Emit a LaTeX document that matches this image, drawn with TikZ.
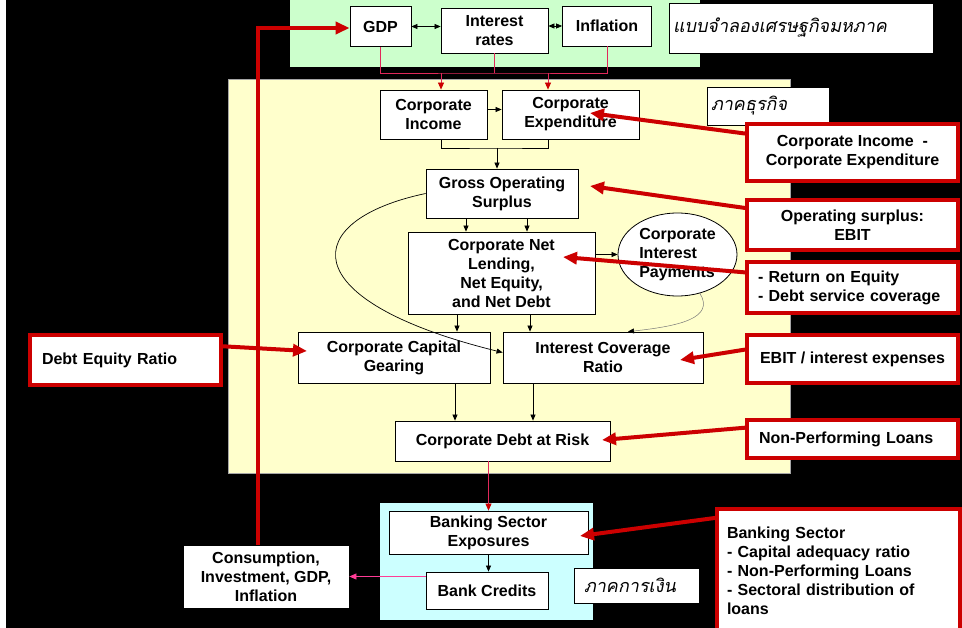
\documentclass[tikz,border=0pt]{standalone}
\usepackage{fontspec}
\setmainfont{Liberation Sans}
\newfontfamily\thaifont[Script=Thai,FakeSlant=0.2]{Loma}
\usetikzlibrary{arrows.meta,shapes.geometric,calc}

\definecolor{macrogreen}{RGB}{204,255,204}
\definecolor{bizyellow}{RGB}{255,255,204}
\definecolor{fincyan}{RGB}{204,255,255}
\definecolor{calloutred}{RGB}{204,0,0}
\definecolor{linkred}{RGB}{225,40,90}
\definecolor{linkpink}{RGB}{255,60,150}
\definecolor{softgray}{RGB}{120,120,120}

\tikzset{
  box/.style={draw=black, line width=0.8pt, fill=white, align=center,
    font=\fontsize{16}{19}\selectfont\bfseries, inner sep=2pt},
  sz/.style 2 args={minimum width=#1pt, minimum height=#2pt},
  thaibox/.style={draw=black, line width=0.8pt, fill=white, align=left,
    font=\fontsize{18}{20}\selectfont\thaifont, inner xsep=4pt},
  callout/.style={draw=calloutred, line width=4pt, fill=white, align=center,
    font=\fontsize{16}{19}\selectfont\bfseries},
  arr/.style={line width=0.7pt, -{Triangle[length=6pt,width=5pt]}},
  dblarr/.style={line width=0.7pt,
    {Triangle[length=6pt,width=5pt]}-{Triangle[length=6pt,width=5pt]}},
  linkline/.style={draw=linkred, line width=0.7pt},
  linkarr/.style={draw=linkred, line width=0.7pt,
    -{Triangle[length=7pt,width=6pt,color=calloutred]}},
  pinkarr/.style={draw=linkpink, line width=0.7pt, -{Triangle[length=7pt,width=6pt]}},
  grayarr/.style={draw=softgray, line width=0.5pt, -{Triangle[length=6pt,width=5pt,color=black]}},
  redarr/.style={draw=calloutred, line width=4pt, -{Triangle[length=14pt,width=12pt]}},
}

\begin{document}
\begin{tikzpicture}[x=1pt,y=-1pt]
    \useasboundingbox (0,0) rectangle (962,628);
    \clip (0,0) rectangle (962,628);
    % background and sector regions
    \fill[white] (0,0) rectangle (962,628);
    \fill[black] (6,0) rectangle (962,628);
    \fill[macrogreen] (290,-2) rectangle (700,67);
    \filldraw[fill=bizyellow, draw=gray!70] (228,79) rectangle (790,473);
    \fill[fincyan] (380,503) rectangle (593,620);

    % macro block
    \node[box, sz={61}{40}] (gdp) at (380.5,26.5) {GDP};
    \node[box, sz={107}{45}] (rates) at (494.5,30.5) {Interest\\rates};
    \node[box, sz={89}{40}] (infl) at (607,26) {Inflation};
    \node[thaibox, sz={264}{50}, text width=256pt] (macro) at (801,28) {แบบจำลองเศรษฐกิจมหภาค};

    % corporate block
    \node[box, sz={107}{49}] (ci) at (433.5,114.5) {Corporate\\Income};
    \node[box, sz={137}{49}] (ce) at (570.5,114.5) {Corporate\\Expenditure};
    \node[thaibox, sz={122}{38}, text width=114pt] (biz) at (768,106) {ภาคธุรกิจ};
    \node[box, sz={152}{49}] (gos) at (502,193.5) {Gross Operating\\Surplus};
    \node[box, sz={187}{82}] (cnl) at (501.5,273) {Corporate Net\\Lending,\\Net Equity,\\and Net Debt};
    \node[box, ellipse, sz={119}{83}, align=left, inner sep=0pt] (cip) at (677.5,254.5) {Corporate\\Interest\\Payments};
    \node[box, sz={192}{51}] (ccg) at (394,357.5) {Corporate Capital\\Gearing};
    \node[box, sz={200}{51}] (icr) at (603,357.5) {Interest Coverage\\Ratio};
    \node[box, sz={215}{40}] (cdr) at (502.5,441) {Corporate Debt at Risk};

    % financial block
    \node[box, sz={199}{43}] (bse) at (488.5,532.5) {Banking Sector\\Exposures};
    \node[box, sz={122}{37}] (bcr) at (487,590.5) {Bank Credits};
    \node[thaibox, sz={125}{35}, inner xsep=10pt, text width=105pt] (fin) at (636.5,585.5) {ภาคการเงิน};
    \node[box, sz={166}{63}] (cons) at (266,576.5) {Consumption,\\Investment, GDP,\\Inflation};

    % macro links
    \coordinate (mbus) at (494.5,73);
    \draw[dblarr] (gdp.east) -- (gdp.east -| rates.west);
    \draw[dblarr] (rates.east |- infl.west) -- (infl.west);
    \draw[linkline] (gdp.south) |- (mbus) -| (infl.south);
    \draw[linkline] (rates.south) -- (mbus);
    \draw[linkarr] ([xshift=7.5pt]ci.north |- mbus) -- ([xshift=7.5pt]ci.north);
    \draw[linkarr] ([xshift=-22.5pt]ce.north |- mbus) -- ([xshift=-22.5pt]ce.north);

    % corporate links
    \coordinate (ibus) at (497,148);
    \draw[arr] ([yshift=5pt]ci.east) -- ([yshift=5pt]ce.west);
    \draw[line width=0.7pt] ([xshift=7.5pt]ci.south) |- (ibus) -| ([xshift=-22.5pt]ce.south);
    \draw[arr] (ibus) -- (ibus |- gos.north);
    \draw[arr] ([xshift=-36pt]gos.south) -- ([xshift=-36pt]gos.south |- cnl.north);
    \draw[arr] ([xshift=25pt]gos.south) -- ([xshift=25pt]gos.south |- cnl.north);
    \draw[arr] (cnl.east |- cip.west) -- (cip.west);
    \draw[arr] ([xshift=-44.5pt]cnl.south) -- ([xshift=-44.5pt]cnl.south |- ccg.north);
    \draw[arr] ([xshift=28.5pt]cnl.south) -- ([xshift=28.5pt]cnl.south |- icr.north);
    \draw[arr] (gos.west) .. controls (300,220) and (290,300) .. ([yshift=5pt]icr.west);
    \draw[grayarr] (cip.-60) .. controls (715,318) and (680,326) .. ([xshift=25pt]icr.north);
    \draw[arr] ([xshift=-47.5pt]cdr.north |- ccg.south) -- ([xshift=-47.5pt]cdr.north);
    \draw[arr] ([xshift=30.5pt]cdr.north |- icr.south) -- ([xshift=30.5pt]cdr.north);

    % financial links
    \draw[linkarr] (bse.north |- cdr.south) -- (bse.north);
    \draw[arr] (bse.south) -- (bse.south |- bcr.north);
    \draw[pinkarr] (bcr.west |- cons.east) -- (cons.east);

    % indicator callouts
    \node[callout, sz={211}{57}] (c1) at (852.5,152.5) {Corporate Income\ \ -\\Corporate Expenditure};
    \node[callout, sz={211}{50}] (c2) at (852.5,225) {Operating surplus:\\EBIT};
    \node[callout, sz={211}{51}, align=left, inner xsep=11pt, text width=189pt] (c3) at (852.5,287.5) {- Return on Equity\\- Debt service coverage};
    \node[callout, sz={211}{48}] (c4) at (852.5,359) {EBIT / interest expenses};
    \node[callout, sz={211}{38}, align=left, inner xsep=12pt, text width=187pt] (c5) at (852.5,439) {Non-Performing Loans};
    \node[callout, anchor=north west, align=left, inner xsep=10pt, inner ysep=17.5pt, text width=223pt] (c6) at (715,507)
      {Banking Sector\\- Capital adequacy ratio\\- Non-Performing Loans\\- Sectoral distribution of\\loans};
    \node[callout, sz={191}{50}, align=left, inner xsep=12pt, text width=167pt] (c7) at (125.5,360) {Debt Equity Ratio};

    % indicator arrows
    \coordinate (t1) at (590,113);
    \coordinate (t2) at (590,186);
    \coordinate (t3) at (563,257);
    \coordinate (t4) at (680,360);
    \coordinate (t5) at (602,440);
    \coordinate (t6) at (580,536);
    \coordinate (t7) at (307,351);
    \draw[redarr] (c1.170) -- (t1);
    \draw[redarr] (c2.171) -- (t2);
    \draw[redarr] (c3.172) -- (t3);
    \draw[redarr] (c4.175) -- (t4);
    \draw[redarr] (c5.174) -- (t5);
    \draw[redarr] (c6.157) -- (t6);
    \draw[redarr] (c7.8) -- (t7);

    % feedback to GDP
    \coordinate (feedback) at (258,28);
    \draw[redarr] (feedback |- cons.north) -- (feedback) -- (feedback -| gdp.west);
\end{tikzpicture}
\end{document}
